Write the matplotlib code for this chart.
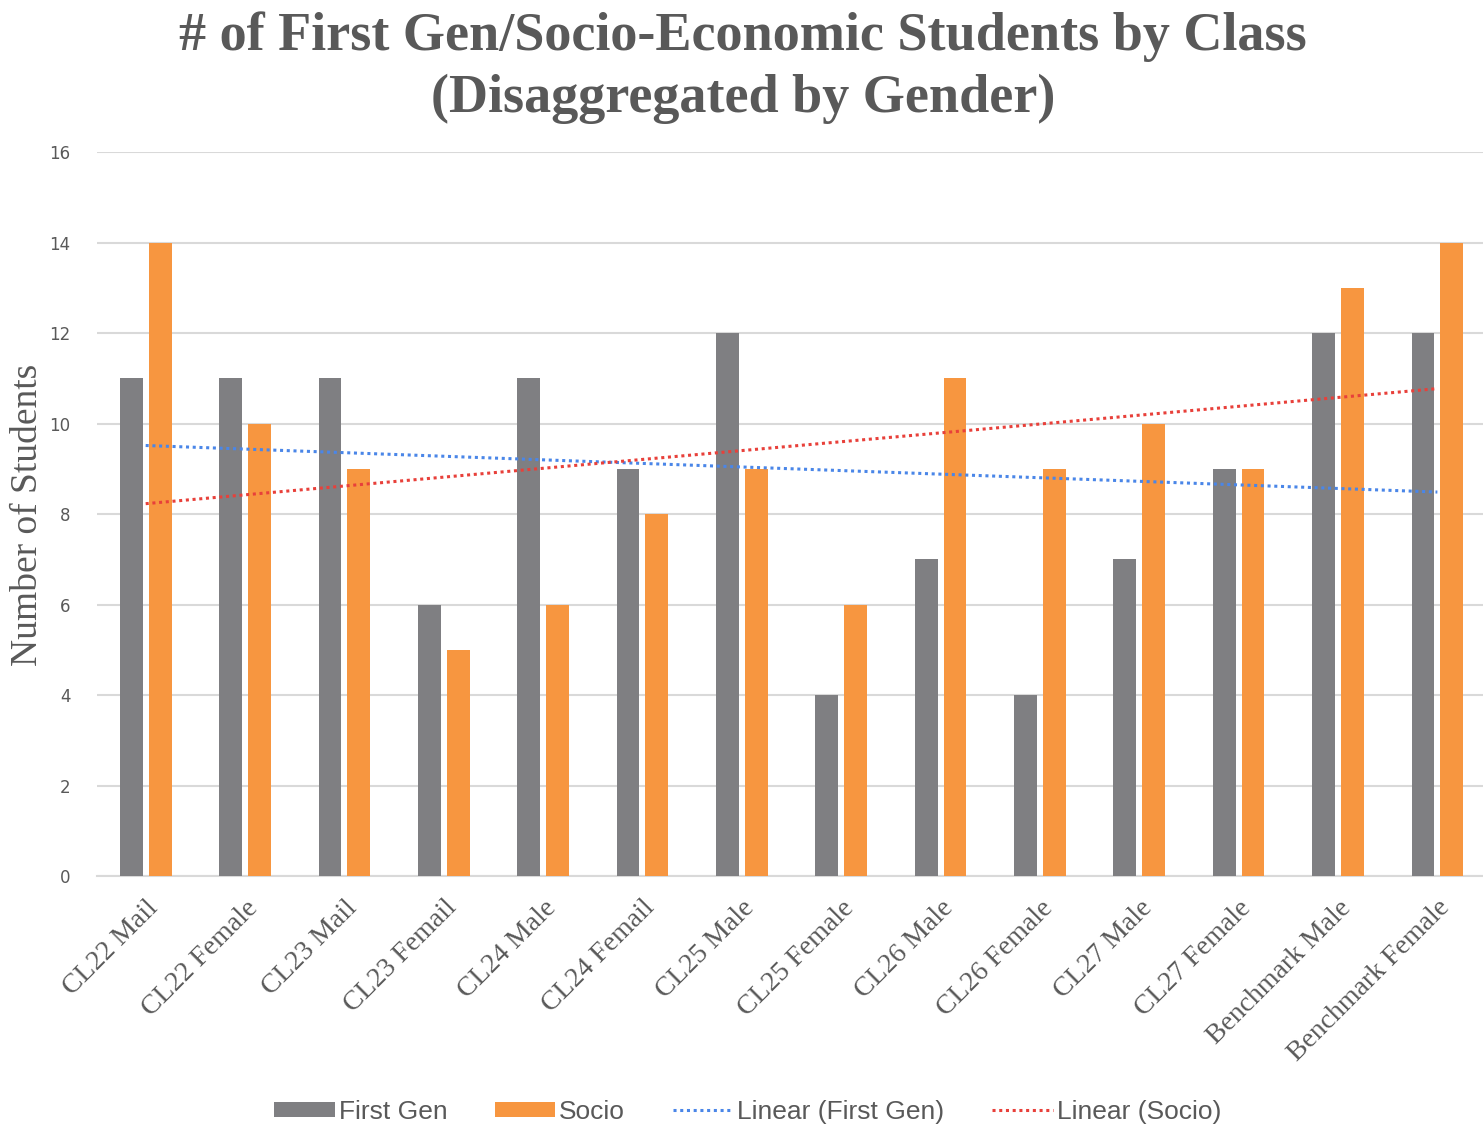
import numpy as np
import matplotlib
matplotlib.use("Agg")
import matplotlib.pyplot as plt

categories = ["CL22 Mail", "CL22 Female", "CL23 Mail", "CL23 Femail", "CL24 Male",
              "CL24 Femail", "CL25 Male", "CL25 Female", "CL26 Male", "CL26 Female",
              "CL27 Male", "CL27 Female", "Benchmark Male", "Benchmark Female"]
first_gen = [11, 11, 11, 6, 11, 9, 12, 4, 7, 4, 7, 9, 12, 12]
socio = [14, 10, 9, 5, 6, 8, 9, 6, 11, 9, 10, 9, 13, 14]
yticks = [0, 2, 4, 6, 8, 10, 12, 14, 16]

gray = "#7f7f82"
orange = "#f79640"
txt = "#595959"

fig = plt.figure(figsize=(14.83, 11.27), dpi=100)
ax = fig.add_axes([0.0654, 0.2227, 0.938, 0.6424])

x = np.arange(len(categories))
w = 0.23
b1 = ax.bar(x - 0.145, first_gen, w, color=gray, label="First Gen", zorder=3)
b2 = ax.bar(x + 0.145, socio, w, color=orange, label="Socio", zorder=3)

# linear trend lines, like the spreadsheet adds
p1 = np.polyfit(x, first_gen, 1)
p2 = np.polyfit(x, socio, 1)
l1, = ax.plot(x, np.polyval(p1, x), ls=(0, (1, 1.2)), lw=2.2, color="#4a86e8",
              label="Linear (First Gen)", zorder=4)
l2, = ax.plot(x, np.polyval(p2, x), ls=(0, (1, 1.2)), lw=2.2, color="#e8403a",
              label="Linear (Socio)", zorder=4)

ax.set_xlim(-0.49, len(categories) - 0.49)
ax.set_ylim(0, 16)
ax.set_yticks(yticks)
ax.yaxis.grid(True, color="#d9d9d9", lw=1.5, zorder=0)
ax.set_axisbelow(True)
for s in ["top", "right", "left"]:
    ax.spines[s].set_visible(False)
ax.spines["bottom"].set_color("#d9d9d9")
ax.spines["bottom"].set_linewidth(1.5)
ax.tick_params(axis="both", length=0)
ax.tick_params(axis="y", labelsize=12, labelcolor=txt, pad=19)

ax.set_xticks(x)
ax.set_xticklabels(categories, rotation=45, ha="right", rotation_mode="anchor",
                   family="Liberation Serif", fontsize=20, color=txt)
ax.tick_params(axis="x", pad=14)

fig.text(28 / 1483, 1 - 515 / 1127, "Number of Students", family="Liberation Serif",
         fontsize=27, color=txt, rotation=90, ha="center", va="center")

fig.suptitle("# of First Gen/Socio-Economic Students by Class\n(Disaggregated by Gender)",
             family="Liberation Serif", fontweight="bold", fontsize=39, color=txt,
             x=0.501, y=0.99, linespacing=1.3)

fig.legend(handles=[b1, b2, l1, l2], loc="lower center", bbox_to_anchor=(0.504, -0.018),
           ncol=4, frameon=False, prop={"family": "Liberation Sans", "size": 19},
           labelcolor=txt, handlelength=2.3, handleheight=0.5,
           handletextpad=0.15, columnspacing=1.8)

fig.savefig("out.png", dpi=100)
